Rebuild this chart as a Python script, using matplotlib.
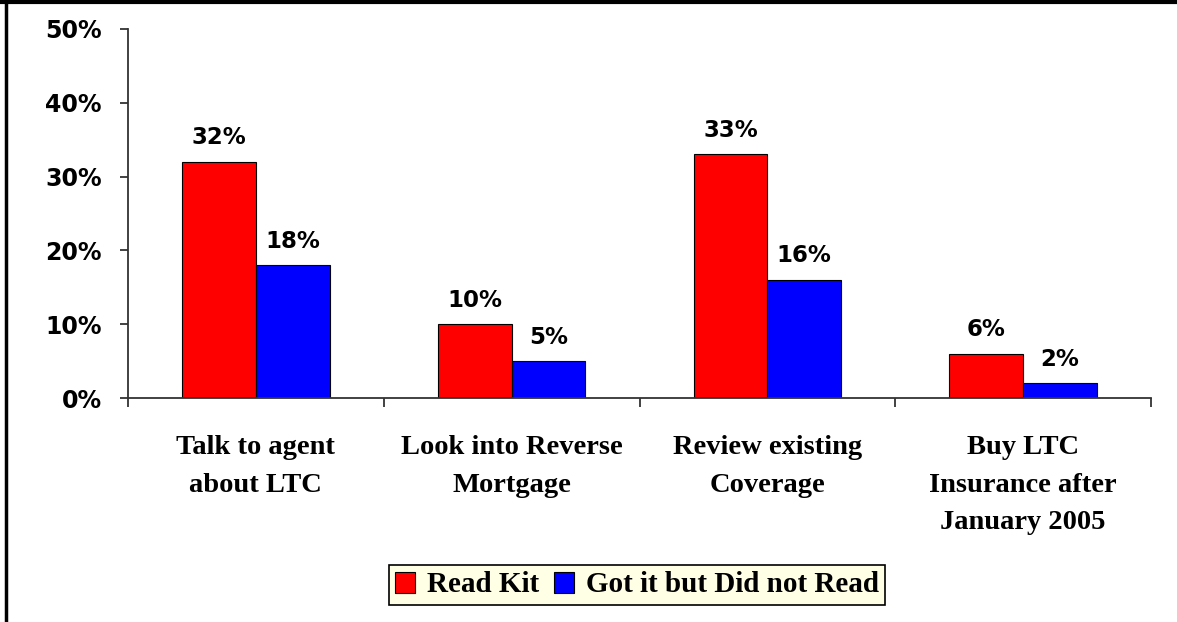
import numpy as np
import matplotlib
matplotlib.use("Agg")
import matplotlib.pyplot as plt
from matplotlib.lines import Line2D
from matplotlib.ticker import FixedLocator

categories = ["Talk to agent\nabout LTC", "Look into Reverse\nMortgage",
              "Review existing\nCoverage", "Buy LTC\nInsurance after\nJanuary 2005"]
read_kit = [32, 10, 33, 6]
not_read = [18, 5, 16, 2]
series_names = ["Read Kit", "Got it but Did not Read"]
yticks = [0, 10, 20, 30, 40, 50]

fig = plt.figure(figsize=(11.77, 6.22), dpi=100)
ax = fig.add_axes([128 / 1177, 1 - 398 / 622, 1023 / 1177, 369 / 622])

x = np.arange(len(categories))
w = 0.288
b1 = ax.bar(x - w / 2, read_kit, w, color="#FF0000", edgecolor="black", linewidth=0.8,
            label=series_names[0])
b2 = ax.bar(x + w / 2, not_read, w, color="#0000FF", edgecolor="black", linewidth=0.8,
            label=series_names[1])

for bars, vals in [(b1, read_kit), (b2, not_read)]:
    for r, v in zip(bars, vals):
        ax.annotate("{}%".format(v), (r.get_x() + r.get_width() / 2, v),
                    xytext=(0, 9), textcoords="offset points", ha="center", va="bottom",
                    fontsize=16.5, fontweight="bold", family="DejaVu Sans")

ax.set_xlim(-0.5, len(categories) - 0.5)
ax.set_ylim(0, 50)
ax.set_yticks(yticks)
ax.set_yticklabels(["{}%".format(t) for t in yticks], fontsize=17, fontweight="bold",
                   family="DejaVu Sans")
ax.set_xticks(x)
ax.set_xticklabels(categories, fontsize=20.5, fontweight="bold", family="Liberation Serif",
                   linespacing=1.65, va="top")
ax.xaxis.set_minor_locator(FixedLocator(np.arange(len(categories) + 1) - 0.5))
ax.tick_params(axis="x", which="major", length=0, pad=27)
ax.tick_params(axis="x", which="minor", length=6.5, width=1.3, color="#333333", direction="out")
ax.tick_params(axis="y", length=5.8, width=1.3, color="#333333", pad=13)

for side in ["top", "right"]:
    ax.spines[side].set_visible(False)
for side in ["left", "bottom"]:
    ax.spines[side].set_color("#333333")
    ax.spines[side].set_linewidth(1.3)

leg = fig.legend(loc="center", bbox_to_anchor=(637 / 1177, 1 - 585 / 622), ncol=2,
                 prop={"family": "Liberation Serif", "weight": "bold", "size": 21},
                 fancybox=False, framealpha=1, facecolor="#FFFFE6", edgecolor="black",
                 handlelength=0.7, handleheight=0.7, handletextpad=0.4, columnspacing=0.5,
                 borderpad=0.22, borderaxespad=0)
leg.get_frame().set_linewidth(1.2)

# border of the picture: top and left only
fig.add_artist(Line2D([0, 1], [0.997, 0.997], transform=fig.transFigure, color="black", lw=3))
fig.add_artist(Line2D([0.005, 0.005], [0, 1], transform=fig.transFigure, color="black", lw=2.5))

fig.savefig("out.png", dpi=100)
